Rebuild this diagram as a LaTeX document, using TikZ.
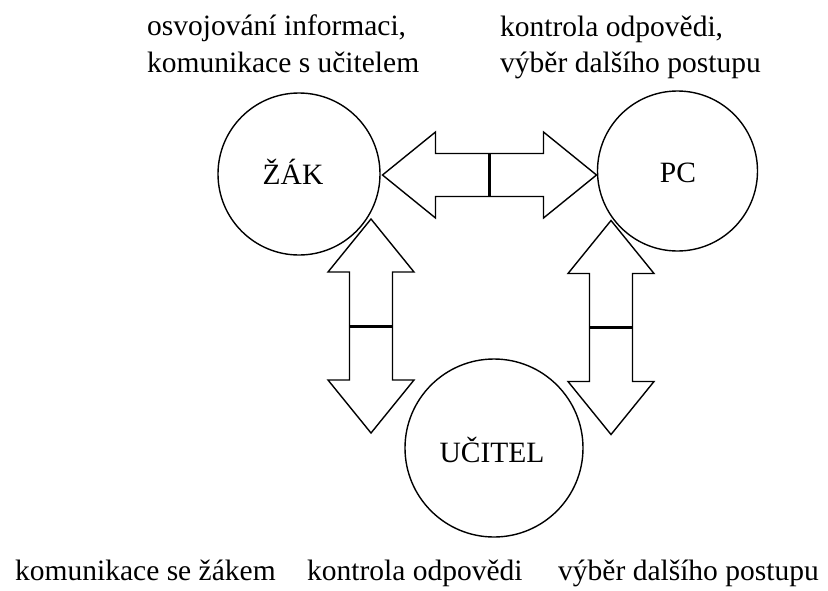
\documentclass[tikz,border=0pt]{standalone}
\usepackage{fontspec}
\setmainfont{Liberation Serif}
\begin{document}
\begin{tikzpicture}[x=1pt,y=-1pt,
  lbl/.style={anchor=base west, inner sep=0pt, font=\fontsize{29.5}{35}\selectfont},
  circ/.style={draw, line width=1.4pt, circle, minimum size=#1, inner sep=0pt, font=\fontsize{29.5}{35}\selectfont},
  arrowline/.style={draw, line width=1.4pt, line join=miter},
  barline/.style={line width=3pt},
  dblarrow/.pic={
    \draw[arrowline] (-107,0) -- (-54,-43) -- (-54,-21.5) -- (54,-21.5) -- (54,-43) -- (107,0)
      -- (54,43) -- (54,21.5) -- (-54,21.5) -- (-54,43) -- cycle;
    \draw[barline] (0,-21.5) -- (0,21.5);
  }]
\useasboundingbox (0,0) rectangle (828,590);

% circles
\node[circ=162pt] (zak) at (299,174) {};
\node[circ=160pt] (pc) at (677.5,171) {};
\node[circ=178pt] (ucitel) at (494,448) {};
\node[inner sep=0pt, font=\fontsize{29.5}{35}\selectfont] (zaktxt) at (293,172) {ŽÁK};
\node[inner sep=0pt, font=\fontsize{29.5}{35}\selectfont] (pctxt) at (678,173) {PC};
\node[inner sep=0pt, font=\fontsize{29.5}{35}\selectfont] (ucteltxt) at (492,450) {UČITEL};

% double arrows
\pic at (489.5,175) {dblarrow};
\pic[rotate=90] at (371,326) {dblarrow};
\pic[rotate=90] at (611,327.5) {dblarrow};

% labels
\node[lbl] (t1) at (147,35) {osvojování informaci,};
\node[lbl] (t2) at (147,72) {komunikace s učitelem};
\node[lbl] (t3) at (500,36) {kontrola odpovědi,};
\node[lbl] (t4) at (500,72) {výběr dalšího postupu};
\node[lbl] (b1) at (15,580) {komunikace se žákem};
\node[lbl] (b2) at (307,580) {kontrola odpovědi};
\node[lbl] (b3) at (558,580) {výběr dalšího postupu};
\end{tikzpicture}
\end{document}
